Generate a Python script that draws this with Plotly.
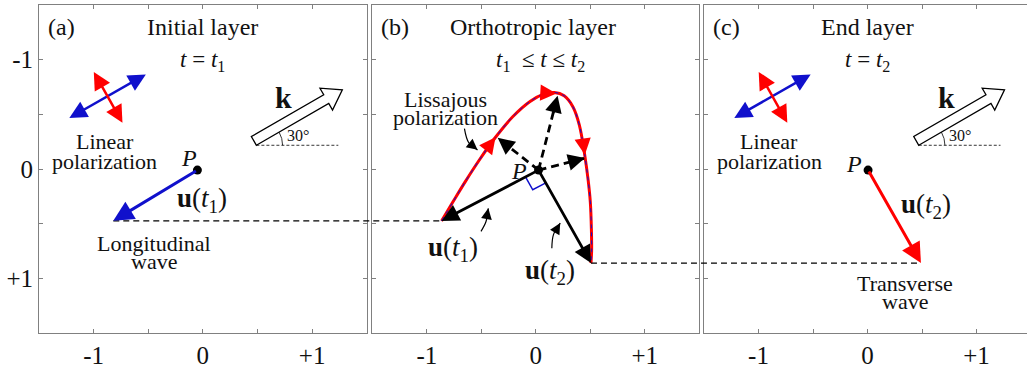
import math
import plotly.graph_objects as go

# ---------------- data ----------------
TICK_VALS = [-1, -0.5, 0, 0.5, 1]
TICK_TEXT = ["-1", "", "0", "", "+1"]
Y_TICK_TEXT = ["-1", "", "0", "", "+1"]

panel_letters = ["(a)", "(b)", "(c)"]
panel_titles = ["Initial layer", "Orthotropic layer", "End layer"]
panel_times = ["<i>t</i> = <i>t</i><sub>1</sub>",
               "<i>t</i><sub>1</sub>  \u2264 <i>t</i> \u2264 <i>t</i><sub>2</sub>",
               "<i>t</i> = <i>t</i><sub>2</sub>"]
title_x = [0.0, -0.03, 0.0]
time_x = [0.0, 0.04, 0.0]

# point P in each panel
P_x = [-0.05, 0.025, 0.005]
P_y = [0.01, 0.01, 0.01]

# displacement tips
u1_tip_a = [-0.82, 0.474]
u1_tip_b = [-0.865, 0.475]
u2_tip_b = [0.506, 0.86]
u2_tip_c = [0.49, 0.86]

# Lissajous trajectory (panel b)
curve_x = [-0.865, -0.76, -0.65, -0.52, -0.37, -0.21, -0.05, 0.06, 0.17, 0.26,
           0.34, 0.40, 0.45, 0.48, 0.50, 0.51, 0.512, 0.506]
curve_y = [0.475, 0.30, 0.12, -0.08, -0.29, -0.48, -0.62, -0.68, -0.70, -0.67,
           -0.57, -0.40, -0.12, 0.10, 0.30, 0.55, 0.75, 0.86]

# dashed arrows from P to the curve (panel b)
dash_tip_x = [-0.35, 0.20, 0.45]
dash_tip_y = [-0.285, -0.67, -0.10]

# red arrowheads along the curve: (tail, head)
curve_heads = [((-0.45, -0.185), (-0.37, -0.29)),
               ((0.10, -0.695), (0.19, -0.69)),
               ((0.435, -0.24), (0.45, -0.13))]

# linear polarization cross (panels a and c)
lin_blue_x = [-1.236, -0.522]
lin_blue_y = [-0.459, -0.865]
lin_red_x = [-1.006, -0.736]
lin_red_y = [-0.902, -0.422]

# k arrow: bottom corner, angle, length
k_corner_x = [0.49, None, 0.47]
k_corner_y = [-0.217, None, -0.217]
K_ANGLE = 30
K_LEN = 0.935

# ---------------- styling / geometry ----------------
FONT = "Liberation Serif, Times New Roman, serif"
BLUE = "#1010cc"
RED = "#ff0000"
GRAY = "#808080"

W, H = 1027, 373
ML, MR, MT, MB = 39, 0, 5, 40
domains = [[0.0, 0.3317], [0.3374, 0.6683], [0.6731, 1.0]]
xranges = [[-1.5, 1.5], [-1.5, 1.5], [-1.5, 1.463]]
yrange = [1.5, -1.5]

xr = ["x", "x2", "x3"]
yr = ["y", "y2", "y3"]


def to_paper(i, x):
    d0, d1 = domains[i]
    r0, r1 = xranges[i]
    return d0 + (x - r0) / (r1 - r0) * (d1 - d0)


fig = go.Figure()
annotations = []
shapes = []


def text(i, x, y, s, size=20, **kw):
    annotations.append(dict(x=x, y=y, xref=xr[i], yref=yr[i], text=s, showarrow=False,
                            font=dict(family=FONT, size=size, color="#111"), **kw))


def arrow(i, tail, head, color, width, size=1.0, side="end", head_style=2):
    d = dict(x=head[0], y=head[1], ax=tail[0], ay=tail[1], xref=xr[i], yref=yr[i],
             axref=xr[i], ayref=yr[i], text="", showarrow=True, arrowhead=head_style,
             arrowsize=size, arrowwidth=width, arrowcolor=color, arrowside=side,
             standoff=0, startstandoff=0)
    if "start" in side:
        d["startarrowhead"] = head_style
        d["startarrowsize"] = size
    annotations.append(d)


def line(i, xs, ys, color, width, dash="solid", shape="linear"):
    fig.add_trace(go.Scatter(x=xs, y=ys, xaxis=xr[i], yaxis=yr[i], mode="lines",
                             line=dict(color=color, width=width, dash=dash, shape=shape),
                             hoverinfo="skip", showlegend=False))


# panel labels and titles
for i in range(3):
    text(i, -1.29, -1.30, panel_letters[i], 24)
    text(i, title_x[i], -1.30, panel_titles[i], 24)
    text(i, time_x[i], -0.99, panel_times[i], 23)

# linear polarization crosses and k arrows (a, c)
for i in (0, 2):
    arrow(i, (lin_blue_x[0], lin_blue_y[0]), (lin_blue_x[1], lin_blue_y[1]), BLUE, 2.5, 1.4, "end+start")
    arrow(i, (lin_red_x[0], lin_red_y[0]), (lin_red_x[1], lin_red_y[1]), RED, 2.5, 1.4, "end+start")
    text(i, -0.90, -0.25, "Linear", 22)
    text(i, -0.90, -0.07, "polarization", 22)

    cx, cy = k_corner_x[i], k_corner_y[i]
    a = math.radians(K_ANGLE)
    ux, uy = math.cos(a), -math.sin(a)
    nx, ny = math.sin(a), math.cos(a)
    w, hw, hl = 0.046, 0.115, 0.17
    bx, by = cx - w * nx, cy - w * ny
    pts = [
        (bx + w * nx, by + w * ny),
        (bx + w * nx + (K_LEN - hl) * ux, by + w * ny + (K_LEN - hl) * uy),
        (bx + hw * nx + (K_LEN - hl) * ux, by + hw * ny + (K_LEN - hl) * uy),
        (bx + K_LEN * ux, by + K_LEN * uy),
        (bx - hw * nx + (K_LEN - hl) * ux, by - hw * ny + (K_LEN - hl) * uy),
        (bx - w * nx + (K_LEN - hl) * ux, by - w * ny + (K_LEN - hl) * uy),
        (bx - w * nx, by - w * ny),
    ]
    path = "M " + " L ".join(f"{px:.4f},{py:.4f}" for px, py in pts) + " Z"
    shapes.append(dict(type="path", path=path, xref=xr[i], yref=yr[i],
                       line=dict(color="black", width=1.3), fillcolor="white", layer="above"))
    # horizontal reference line
    shapes.append(dict(type="line", x0=cx, x1=cx + 0.75, y0=cy, y1=cy, xref=xr[i], yref=yr[i],
                       line=dict(color="black", width=0.8, dash="3px,2px")))
    # 30 degree arc
    r = 0.24
    h = math.radians(K_ANGLE / 2)
    ctrl = (cx + r / math.cos(h) * math.cos(h), cy - r / math.cos(h) * math.sin(h))
    arc = (f"M {cx + r:.4f},{cy:.4f} Q {ctrl[0]:.4f},{ctrl[1]:.4f} "
           f"{cx + r * ux:.4f},{cy + r * uy:.4f}")
    shapes.append(dict(type="path", path=arc, xref=xr[i], yref=yr[i],
                       line=dict(color="black", width=0.8)))
    text(i, cx + 0.38, cy - 0.085, "30\u00b0", 16)
    text(i, cx + 0.25, -0.65, "<b>k</b>", 30)

# panel (a)
arrow(0, (P_x[0], P_y[0]), u1_tip_a, BLUE, 3, 1.35)
text(0, -0.01, 0.28, "<b>u</b>(<i>t</i><sub>1</sub>)", 27)
text(0, -0.445, 0.68, "Longitudinal", 22)
text(0, -0.445, 0.85, "wave", 22)
text(0, -0.13, -0.10, "<i>P</i>", 24)

# panel (b)
line(1, curve_x, curve_y, RED, 3, shape="spline")
line(1, curve_x, curve_y, BLUE, 1, dash="4px,4px", shape="spline")
for tl, hd in curve_heads:
    arrow(1, tl, hd, RED, 2.5, 1.3)
for tx, ty in zip(dash_tip_x, dash_tip_y):
    line(1, [P_x[1], tx], [P_y[1], ty], "black", 2.8, dash="8px,5px")
    dx, dy = tx - P_x[1], ty - P_y[1]
    arrow(1, (P_x[1] + 0.75 * dx, P_y[1] + 0.75 * dy), (tx, ty), "black", 2.8, 1.2)
arrow(1, (P_x[1], P_y[1]), u1_tip_b, "black", 2.8, 1.25)
arrow(1, (P_x[1], P_y[1]), u2_tip_b, "black", 2.8, 1.25)
# right-angle marker
d1 = (u1_tip_b[0] - P_x[1], u1_tip_b[1] - P_y[1])
d2 = (u2_tip_b[0] - P_x[1], u2_tip_b[1] - P_y[1])
n1 = math.hypot(*d1); n2 = math.hypot(*d2)
s = 0.135
a1 = (P_x[1] + s * d1[0] / n1, P_y[1] + s * d1[1] / n1)
a2 = (P_x[1] + s * d2[0] / n2, P_y[1] + s * d2[1] / n2)
cc = (a1[0] + s * d2[0] / n2, a1[1] + s * d2[1] / n2)
line(1, [a1[0], cc[0], a2[0]], [a1[1], cc[1], a2[1]], BLUE, 1.5)
text(1, -0.83, -0.64, "Lissajous", 22)
text(1, -0.83, -0.47, "polarization", 22)
text(1, -0.15, 0.02, "<i>P</i>", 24)
text(1, -0.76, 0.73, "<b>u</b>(<i>t</i><sub>1</sub>)", 27)
text(1, 0.13, 0.94, "<b>u</b>(<i>t</i><sub>2</sub>)", 27)
# curved pointers
pointers = [([-0.655, -0.615, -0.535], [-0.37, -0.24, -0.175]),
            ([-0.503, -0.457, -0.436], [0.57, 0.48, 0.36]),
            ([0.147, 0.162, 0.224], [0.725, 0.60, 0.495])]
for px_, py_ in pointers:
    line(1, px_, py_, "black", 1.2, shape="spline")
    arrow(1, (px_[1] + 0.5 * (px_[2] - px_[1]), py_[1] + 0.5 * (py_[2] - py_[1])),
          (px_[2], py_[2]), "black", 1.2, 1.8)

# panel (c)
arrow(2, (P_x[2], P_y[2]), u2_tip_c, RED, 3, 1.35)
text(2, 0.54, 0.34, "<b>u</b>(<i>t</i><sub>2</sub>)", 27)
text(2, 0.34, 1.05, "Transverse", 22)
text(2, 0.34, 1.21, "wave", 22)
text(2, -0.12, -0.05, "<i>P</i>", 24)

# P points
for i in range(3):
    fig.add_trace(go.Scatter(x=[P_x[i]], y=[P_y[i]], xaxis=xr[i], yaxis=yr[i], mode="markers",
                             marker=dict(color="black", size=9), hoverinfo="skip", showlegend=False))

# cross-panel dashed lines
shapes.append(dict(type="line", xref="paper", yref="y", x0=to_paper(0, u1_tip_a[0]),
                   x1=to_paper(1, u1_tip_b[0]), y0=u1_tip_a[1], y1=u1_tip_a[1],
                   line=dict(color="black", width=1.3, dash="6px,4px")))
shapes.append(dict(type="line", xref="paper", yref="y2", x0=to_paper(1, u2_tip_b[0]),
                   x1=to_paper(2, u2_tip_c[0]), y0=u2_tip_b[1], y1=u2_tip_b[1],
                   line=dict(color="black", width=1.3, dash="6px,4px")))

axis_common = dict(showgrid=False, zeroline=False, showline=True, linecolor=GRAY, linewidth=1,
                   ticks="inside", ticklen=4, tickcolor=GRAY, tickwidth=1,
                   tickvals=TICK_VALS, ticktext=TICK_TEXT,
                   tickfont=dict(family=FONT, size=25, color="#111"), fixedrange=True)

layout = dict(width=W, height=H, margin=dict(l=ML, r=MR, t=MT, b=MB),
              paper_bgcolor="white", plot_bgcolor="white", showlegend=False,
              annotations=annotations, shapes=shapes)
for i in range(3):
    sfx = "" if i == 0 else str(i + 1)
    layout["xaxis" + sfx] = dict(axis_common, domain=domains[i], range=xranges[i],
                                 anchor="y" + sfx, mirror="allticks")
    layout["yaxis" + sfx] = dict(axis_common, domain=[0, 1], range=yrange, anchor="x" + sfx,
                                 mirror="allticks" if i < 2 else False,
                                 showticklabels=(i == 0), ticktext=Y_TICK_TEXT)
fig.update_layout(**layout)
fig.write_html("out.html")
